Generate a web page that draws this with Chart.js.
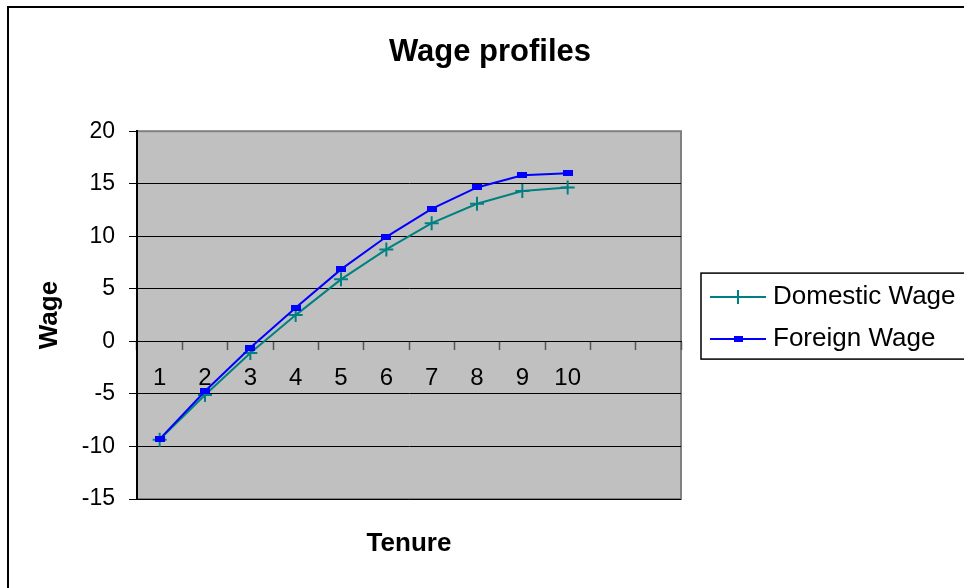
<!DOCTYPE html>
<html>
<head>
<meta charset="utf-8">
<script src="https://cdn.jsdelivr.net/npm/chart.js"></script>
<style>
  html, body { margin: 0; padding: 0; background: #fff; overflow: hidden; }
  #frame { position: absolute; left: 7px; top: 6px; width: 1000px; height: 620px;
           border-left: 2px solid #000; border-top: 2px solid #000; }
  #wageChart { position: absolute; left: 0; top: 0; }
</style>
</head>
<body>
<div id="frame"><canvas id="wageChart" width="962" height="580"></canvas></div>
<script>
// tenure categories (last two slots are empty in the original)
const tenure = ["1", "2", "3", "4", "5", "6", "7", "8", "9", "10", "", ""];
const domesticWage = [-9.35, -5.1, -1.1, 2.5, 5.9, 8.75, 11.25, 13.1, 14.3, 14.65];
const foreignWage = [-9.3, -4.75, -0.6, 3.2, 6.85, 9.95, 12.6, 14.65, 15.8, 16.0];
const seriesNames = ["Domestic Wage", "Foreign Wage"];
const wageMin = -15, wageMax = 20, wageStep = 5;

const FONT = "'Liberation Sans', Arial, sans-serif";
Chart.defaults.font.family = FONT;
Chart.defaults.color = "#000";

// small flat blue box used as the Foreign Wage marker
function boxMarker(w, h, color) {
    const c = document.createElement("canvas");
    c.width = w; c.height = h;
    const cx = c.getContext("2d");
    cx.fillStyle = color;
    cx.fillRect(0, 0, w, h);
    return c;
}
const blueBox = boxMarker(10, 6, "#0000ff");
const blueBoxSmall = boxMarker(9, 6, "#0000ff");

// grey plot area like the old spreadsheet charts
const plotBack = {
    id: "plotBack",
    beforeDraw(chart) {
        const a = chart.chartArea, ctx = chart.ctx;
        ctx.save();
        ctx.fillStyle = "#c0c0c0";
        ctx.fillRect(a.left, a.top, a.right - a.left, a.bottom - a.top);
        ctx.strokeStyle = "#808080";
        ctx.lineWidth = 2;
        ctx.strokeRect(a.left, a.top, a.right - a.left, a.bottom - a.top);
        ctx.restore();
    }
};

// legend with a box round it, to the right of the plot
const boxedLegend = {
    id: "boxedLegend",
    afterDraw(chart) {
        const a = chart.chartArea, ctx = chart.ctx;
        const left = a.right + 20;
        const top = (a.top + a.bottom) / 2 - 42;
        ctx.save();
        ctx.strokeStyle = "#000";
        ctx.lineWidth = 1.5;
        ctx.strokeRect(left, top, 400, 86);
        ctx.font = "26px " + FONT;
        ctx.textBaseline = "middle";
        chart.data.datasets.forEach(function(ds, i) {
            const y = top + 24 + i * 42;
            ctx.strokeStyle = ds.borderColor;
            ctx.fillStyle = ds.borderColor;
            ctx.lineWidth = 2;
            ctx.beginPath();
            ctx.moveTo(left + 9, y);
            ctx.lineTo(left + 65, y);
            ctx.stroke();
            Chart.helpers.drawPoint(ctx, {
                pointStyle: ds.legendMarker,
                radius: 7,
                borderWidth: 2,
                rotation: 0
            }, left + 37, y);
            ctx.fillStyle = "#000";
            ctx.fillText(ds.label, left + 72, y);
        });
        ctx.restore();
    }
};

new Chart("wageChart", {
    type: "line",
    data: {
        labels: tenure,
        datasets: [{
            label: seriesNames[0],
            data: domesticWage,
            borderColor: "#008080",
            backgroundColor: "#008080",
            borderWidth: 2,
            pointStyle: "cross",
            pointRadius: 7,
            pointBorderWidth: 2,
            legendMarker: "cross",
            tension: 0,
            order: 1,
            xAxisID: "x",
            yAxisID: "y"
        }, {
            label: seriesNames[1],
            data: foreignWage,
            borderColor: "#0000ff",
            backgroundColor: "#0000ff",
            borderWidth: 2,
            pointStyle: blueBox,
            pointRadius: 5,
            legendMarker: blueBoxSmall,
            tension: 0,
            order: 0,
            xAxisID: "x",
            yAxisID: "y"
        }]
    },
    options: {
        responsive: false,
        animation: false,
        devicePixelRatio: 1,
        layout: { padding: 0 },
        plugins: {
            legend: { display: false },
            tooltip: { enabled: false },
            title: {
                display: true,
                text: "Wage profiles",
                font: { size: 31, weight: "bold" },
                padding: { top: 26, bottom: 60 }
            }
        },
        scales: {
            x: {
                type: "category",
                position: { y: 0 },
                offset: true,
                grid: {
                    drawOnChartArea: false,
                    offset: true,
                    tickLength: 8,
                    tickColor: "#555",
                    tickWidth: 1.5
                },
                border: { color: "#000", width: 1 },
                ticks: {
                    font: { size: 24 },
                    padding: 15,
                    maxRotation: 0,
                    autoSkip: false
                }
            },
            x2: {
                axis: "x",
                type: "category",
                position: "bottom",
                grid: { display: false },
                border: { display: false },
                ticks: { display: false },
                title: {
                    display: true,
                    text: "Tenure",
                    font: { size: 26, weight: "bold" },
                    padding: { top: 0, bottom: 29 }
                },
                afterFit(s) { s.height = 89; }
            },
            y: {
                min: wageMin,
                max: wageMax,
                ticks: { stepSize: wageStep, font: { size: 23 }, padding: 14 },
                grid: {
                    color: ctx => (ctx.tick && ctx.tick.value === wageMax) ? "#808080" : "#000",
                    lineWidth: 1,
                    tickLength: 8,
                    tickColor: "#000"
                },
                border: { color: "#000", width: 2 },
                title: {
                    display: true,
                    text: "Wage",
                    font: { size: 26, weight: "bold" },
                    padding: { top: 25, bottom: 0 }
                },
                afterFit(s) { s.width = 128; }
            },
            yR: {
                axis: "y",
                type: "linear",
                position: "right",
                grid: { display: false },
                border: { display: false },
                ticks: { display: false },
                afterFit(s) { s.width = 290; }
            }
        }
    },
    plugins: [plotBack, boxedLegend]
});
</script>
</body>
</html>
